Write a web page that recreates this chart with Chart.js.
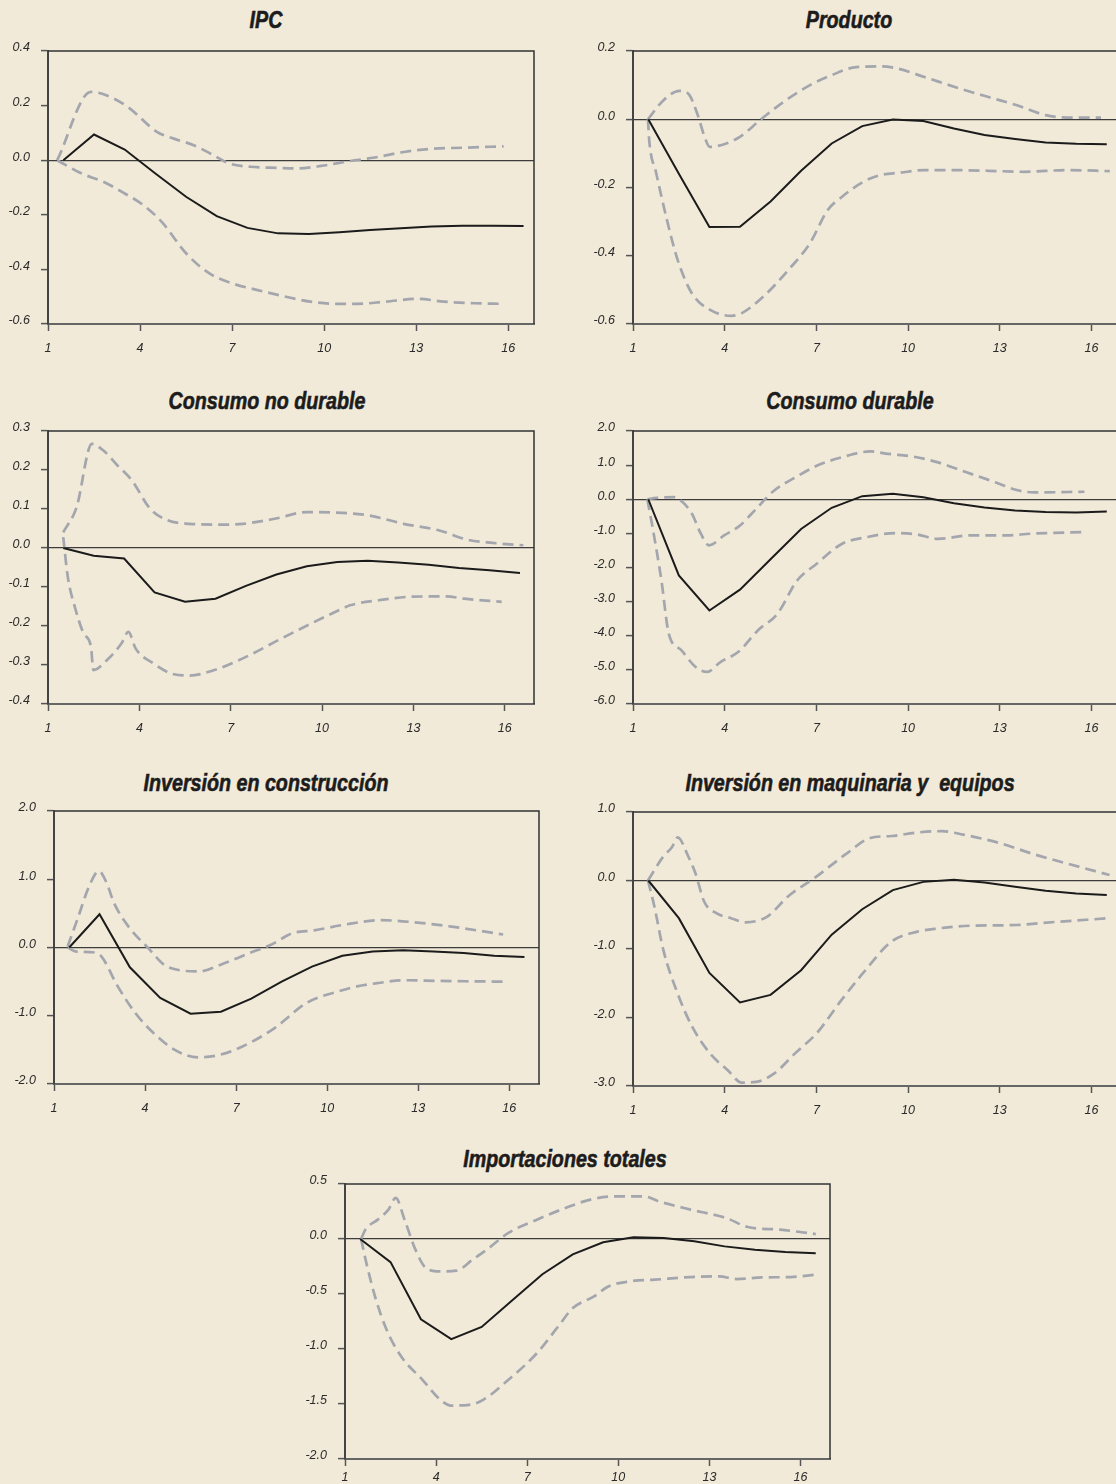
<!DOCTYPE html>
<html>
<head>
<meta charset="utf-8">
<script src="https://cdn.jsdelivr.net/npm/chart.js@4.4.1/dist/chart.umd.min.js"></script>
<style>
  html, body { margin: 0; padding: 0; width: 1116px; height: 1484px; overflow: hidden; background: #f2ead9; }
  canvas { position: absolute; }
  .title {
    position: absolute; white-space: pre;
    transform: translateX(-50%) scaleX(0.82);
    font: italic bold 24px "Liberation Sans", Arial, sans-serif;
    line-height: 24px; color: #1c1c1c;
    -webkit-text-stroke: 0.6px #1c1c1c;
  }
</style>
</head>
<body>
<script>
// Impulse responses: horizon steps of the point estimate and x-axis labels
const steps  = [1.5, 2.5, 3.5, 4.5, 5.5, 6.5, 7.5, 8.5, 9.5, 10.5, 11.5, 12.5, 13.5, 14.5, 15.5, 16.5];
const xTicks = [1, 4, 7, 10, 13, 16];

// IPC
const ipcResponse = [0, 0.094, 0.039, -0.049, -0.134, -0.205, -0.248, -0.268, -0.27, -0.264, -0.256, -0.249, -0.243, -0.24, -0.24, -0.241];
const ipcUpper = [[1.3,0],[2.4,0.25],[2.9,0.238],[3.6,0.195],[4.55,0.104],[5.1,0.079],[5.75,0.055],[6.4,0.018],[6.9,-0.012],[7.6,-0.024],[8.5,-0.028],[9.1,-0.03],[9.9,-0.021],[10.85,-0.003],[11.65,0.01],[12.6,0.03],[13.4,0.041],[14.6,0.046],[15.85,0.051]];
const ipcLower = [[1.3,0],[2.1,-0.049],[2.8,-0.079],[3.5,-0.122],[4.1,-0.164],[4.7,-0.225],[5.5,-0.341],[6.25,-0.414],[7.0,-0.451],[7.8,-0.475],[8.75,-0.5],[9.55,-0.518],[10.4,-0.526],[11.1,-0.526],[12.0,-0.518],[13.05,-0.508],[13.9,-0.518],[14.9,-0.524],[15.75,-0.526]];
const ipcTicks = [-0.6, -0.4, -0.2, 0, 0.2, 0.4];

// Producto
const prodResponse = [0, -0.16, -0.316, -0.315, -0.241, -0.151, -0.071, -0.02, -0.001, -0.005, -0.027, -0.046, -0.058, -0.068, -0.072, -0.073];
const prodUpper = [[1.49,0],[2.0,0.056],[2.52,0.083],[2.81,0.075],[3.1,0.017],[3.34,-0.051],[3.51,-0.081],[3.98,-0.073],[4.51,-0.051],[5.15,-0.003],[5.85,0.046],[6.79,0.1],[7.49,0.129],[8.31,0.153],[9.12,0.155],[9.59,0.15],[10.53,0.124],[11.58,0.093],[12.63,0.065],[13.56,0.041],[14.5,0.012],[15.2,0.005],[16.31,0.005]];
const prodLower = [[1.49,0],[1.53,-0.061],[1.76,-0.158],[2.11,-0.295],[2.46,-0.412],[2.92,-0.509],[3.51,-0.558],[4.21,-0.576],[4.56,-0.568],[5.27,-0.519],[6.09,-0.441],[6.79,-0.363],[7.37,-0.266],[7.84,-0.227],[8.54,-0.183],[9.12,-0.163],[9.71,-0.157],[10.53,-0.149],[11.46,-0.149],[12.63,-0.151],[13.79,-0.154],[15.2,-0.149],[16.6,-0.152]];
const prodTicks = [-0.6, -0.4, -0.2, 0, 0.2];

// Consumo no durable
const cndResponse = [0, -0.02, -0.027, -0.114, -0.138, -0.13, -0.097, -0.068, -0.047, -0.036, -0.033, -0.037, -0.043, -0.051, -0.057, -0.064];
const cndUpper = [[1.5,0.04],[1.94,0.105],[2.44,0.267],[2.82,0.25],[3.29,0.211],[3.76,0.173],[4.35,0.101],[4.93,0.071],[5.64,0.062],[6.58,0.06],[7.4,0.062],[8.45,0.075],[9.5,0.092],[10.68,0.09],[11.5,0.084],[12.68,0.062],[13.85,0.045],[14.79,0.021],[15.61,0.013],[16.61,0.007]];
const cndLower = [[1.5,0.028],[1.65,-0.074],[1.88,-0.151],[2.17,-0.219],[2.41,-0.253],[2.49,-0.313],[2.94,-0.287],[3.41,-0.245],[3.64,-0.215],[3.88,-0.258],[4.46,-0.296],[5.05,-0.322],[5.64,-0.327],[6.46,-0.313],[7.4,-0.283],[8.57,-0.236],[9.63,-0.194],[10.57,-0.159],[10.92,-0.147],[11.86,-0.134],[12.91,-0.125],[14.09,-0.124],[14.67,-0.13],[15.9,-0.138]];
const cndTicks = [-0.4, -0.3, -0.2, -0.1, 0, 0.1, 0.2, 0.3];

// Consumo durable
const cdResponse = [0, -2.23, -3.26, -2.65, -1.76, -0.87, -0.25, 0.09, 0.16, 0.06, -0.12, -0.24, -0.33, -0.37, -0.39, -0.36];
const cdUpper = [[1.47,0],[1.77,0.04],[2.34,0.06],[2.63,-0.09],[2.93,-0.43],[3.22,-1.01],[3.49,-1.35],[3.98,-1.06],[4.5,-0.77],[5.03,-0.28],[5.61,0.25],[6.31,0.64],[7.01,0.98],[7.83,1.23],[8.76,1.4],[9.35,1.33],[10.17,1.25],[10.98,1.08],[11.91,0.79],[12.85,0.5],[13.55,0.27],[14.13,0.2],[15.77,0.22]];
const cdLower = [[1.47,0],[1.64,-0.82],[1.93,-2.38],[2.17,-3.94],[2.58,-4.42],[3.04,-4.91],[3.42,-5.06],[3.86,-4.77],[4.45,-4.47],[5.09,-3.84],[5.73,-3.35],[6.37,-2.38],[7.01,-1.89],[7.83,-1.31],[8.65,-1.11],[9.58,-0.99],[10.28,-1.03],[10.98,-1.16],[12.03,-1.06],[13.2,-1.06],[14.01,-1.01],[15.77,-0.96]];
const cdTicks = [-6, -5, -4, -3, -2, -1, 0, 1, 2];

// Inversión en construcción
const icResponse = [0, 0.487, -0.29, -0.74, -0.97, -0.94, -0.75, -0.5, -0.28, -0.12, -0.06, -0.04, -0.06, -0.08, -0.12, -0.14];
const icUpper = [[1.45,0.015],[1.8,0.45],[2.15,0.89],[2.48,1.12],[2.74,0.94],[2.98,0.65],[3.45,0.31],[4.15,-0.03],[4.62,-0.25],[5.1,-0.33],[5.8,-0.35],[6.51,-0.25],[7.45,-0.08],[8.15,0.04],[8.86,0.21],[9.57,0.25],[10.51,0.33],[11.8,0.4],[12.86,0.37],[14.04,0.31],[15.1,0.24],[15.8,0.19]];
const icLower = [[1.45,0],[1.74,-0.06],[2.27,-0.07],[2.56,-0.13],[3.1,-0.57],[3.68,-0.96],[4.27,-1.25],[4.98,-1.5],[5.74,-1.61],[6.39,-1.58],[7.21,-1.45],[8.27,-1.18],[9.33,-0.81],[10.39,-0.64],[10.98,-0.57],[11.69,-0.52],[12.51,-0.48],[13.69,-0.49],[15.8,-0.5]];
const icTicks = [-2, -1, 0, 1, 2];

// Inversión en maquinaria y equipos
const imeResponse = [0, -0.55, -1.35, -1.78, -1.67, -1.31, -0.79, -0.42, -0.14, -0.02, 0.01, -0.03, -0.09, -0.15, -0.19, -0.21];
const imeUpper = [[1.49,0],[1.99,0.35],[2.28,0.49],[2.46,0.63],[2.81,0.35],[3.04,0.11],[3.33,-0.31],[3.74,-0.48],[4.21,-0.55],[4.68,-0.61],[5.38,-0.53],[6.08,-0.23],[7.01,0.06],[7.95,0.38],[8.76,0.62],[9.46,0.65],[10.28,0.7],[11.1,0.72],[11.8,0.67],[12.97,0.55],[14.14,0.38],[15.18,0.25],[16.59,0.08]];
const imeLower = [[1.49,0],[1.7,-0.38],[1.99,-1.01],[2.46,-1.65],[2.93,-2.13],[3.51,-2.52],[4.1,-2.77],[4.56,-2.95],[5.03,-2.94],[5.61,-2.82],[6.31,-2.52],[7.01,-2.23],[7.83,-1.74],[8.53,-1.35],[9.46,-0.89],[10.28,-0.75],[10.98,-0.7],[12.03,-0.66],[13.55,-0.65],[14.37,-0.62],[16.59,-0.55]];
const imeTicks = [-3, -2, -1, 0, 1];

// Importaciones totales
const impResponse = [0, -0.21, -0.73, -0.91, -0.8, -0.56, -0.32, -0.14, -0.03, 0.015, 0.01, -0.02, -0.067, -0.097, -0.118, -0.13];
const impUpper = [[1.53,0],[1.67,0.085],[2.08,0.176],[2.43,0.267],[2.67,0.373],[2.96,0.176],[3.32,-0.097],[3.67,-0.264],[4.14,-0.294],[4.67,-0.288],[5.2,-0.188],[5.67,-0.097],[6.38,0.055],[7.32,0.176],[8.26,0.282],[9.08,0.358],[9.91,0.388],[10.85,0.388],[11.32,0.343],[12.38,0.267],[13.55,0.191],[14.26,0.109],[15.32,0.085],[16.5,0.045]];
const impLower = [[1.53,0],[1.73,-0.249],[2.02,-0.552],[2.37,-0.825],[2.85,-1.068],[3.55,-1.28],[4.14,-1.462],[4.49,-1.514],[5.08,-1.508],[5.55,-1.462],[6.38,-1.28],[7.32,-1.038],[8.02,-0.795],[8.5,-0.628],[9.2,-0.522],[9.67,-0.431],[10.38,-0.385],[11.2,-0.37],[12.38,-0.346],[13.32,-0.34],[13.9,-0.364],[14.73,-0.349],[15.67,-0.346],[16.5,-0.325]];
const impTicks = [-2, -1.5, -1, -0.5, 0, 0.5];

// Panel layout: plot rectangle [left, top, right, bottom] in page pixels, title anchor, x-label gap
const panels = [
  { title: 'IPC', tx: 266, tb: 28, rect: [48, 51, 534, 324], xMax: 16.84, xPad: 10, yTicks: ipcTicks, response: ipcResponse, upper: ipcUpper, lower: ipcLower },
  { title: 'Producto', tx: 849, tb: 28, rect: [633, 51, 1119, 324], xMax: 16.9, xPad: 10, yTicks: prodTicks, response: prodResponse, upper: prodUpper, lower: prodLower },
  { title: 'Consumo no durable', tx: 267, tb: 409, rect: [48, 431, 534, 704], xMax: 16.96, xPad: 10, yTicks: cndTicks, response: cndResponse, upper: cndUpper, lower: cndLower },
  { title: 'Consumo durable', tx: 850, tb: 409, rect: [633, 431, 1119, 704], xMax: 16.9, xPad: 10, yTicks: cdTicks, response: cdResponse, upper: cdUpper, lower: cdLower },
  { title: 'Inversión en construcción', tx: 266, tb: 791, rect: [54, 811, 539, 1084], xMax: 16.98, xPad: 10, yTicks: icTicks, response: icResponse, upper: icUpper, lower: icLower },
  { title: 'Inversión en maquinaria y  equipos', tx: 850, tb: 791, rect: [633, 812, 1119, 1086], xMax: 16.9, xPad: 10, yTicks: imeTicks, response: imeResponse, upper: imeUpper, lower: imeLower },
  { title: 'Importaciones totales', tx: 565, tb: 1167, rect: [345, 1184, 830, 1459], xMax: 16.97, xPad: 4, yTicks: impTicks, response: impResponse, upper: impUpper, lower: impLower }
];

const AXIS_W = 60, AXIS_H = 40, PAD_T = 12, PAD_R = 4;
const TICK_FONT = { family: '"Liberation Sans", Arial, sans-serif', size: 12.5, style: 'italic' };
const BAND_COLOR = '#a3a6ad';

// top and right edges of the plot frame
const framePlugin = {
  id: 'frame',
  beforeDatasetsDraw(chart) {
    const { ctx, chartArea: { left, top, right, bottom } } = chart;
    ctx.save();
    ctx.strokeStyle = '#333';
    ctx.lineWidth = 1.5;
    ctx.beginPath();
    ctx.moveTo(left, top);
    ctx.lineTo(right, top);
    ctx.lineTo(right, bottom);
    ctx.stroke();
    ctx.restore();
  }
};

const toPoints = pairs => pairs.map(([x, y]) => ({ x, y }));

panels.forEach(p => {
  const [l, t, r, b] = p.rect;
  const W = (r - l) + AXIS_W + PAD_R;
  const H = (b - t) + AXIS_H + PAD_T;

  const title = document.createElement('div');
  title.className = 'title';
  title.textContent = p.title;
  title.style.left = p.tx + 'px';
  title.style.top = (p.tb - 20) + 'px';
  document.body.appendChild(title);

  const cv = document.createElement('canvas');
  cv.width = W; cv.height = H;
  cv.style.left = (l - AXIS_W) + 'px';
  cv.style.top = (t - PAD_T) + 'px';
  cv.style.width = W + 'px';
  cv.style.height = H + 'px';
  document.body.appendChild(cv);

  const band = data => ({
    data: toPoints(data),
    borderColor: BAND_COLOR,
    borderWidth: 2.7,
    borderDash: [11, 6],
    cubicInterpolationMode: 'monotone',
    pointRadius: 0
  });

  new Chart(cv, {
    type: 'line',
    data: {
      datasets: [
        {
          data: steps.map((x, i) => ({ x, y: p.response[i] })),
          borderColor: '#1b1b1b',
          borderWidth: 2,
          tension: 0,
          pointRadius: 0
        },
        band(p.upper),
        band(p.lower)
      ]
    },
    options: {
      responsive: false,
      animation: false,
      devicePixelRatio: 1,
      layout: { padding: { top: PAD_T, right: PAD_R, left: 0, bottom: 0 } },
      plugins: { legend: { display: false }, tooltip: { enabled: false }, title: { display: false } },
      scales: {
        x: {
          type: 'linear', min: 1, max: p.xMax,
          afterBuildTicks: s => { s.ticks = xTicks.map(v => ({ value: v })); },
          afterFit: s => { s.height = AXIS_H; s.paddingLeft = 0; s.paddingRight = 0; },
          grid: { drawOnChartArea: false, drawTicks: true, tickLength: 7, tickColor: '#555', tickWidth: 1.5 },
          border: { color: '#666', width: 2 },
          ticks: { padding: p.xPad, font: TICK_FONT, color: '#2a2a2a', maxRotation: 0, autoSkip: false, callback: v => String(v) }
        },
        y: {
          type: 'linear', min: p.yTicks[0], max: p.yTicks[p.yTicks.length - 1],
          afterBuildTicks: s => { s.ticks = p.yTicks.map(v => ({ value: v })); },
          afterFit: s => { s.width = AXIS_W; s.paddingTop = 0; s.paddingBottom = 0; },
          grid: {
            drawOnChartArea: true,
            color: c => (c.tick && c.tick.value === 0) ? '#3c3c3c' : 'rgba(0,0,0,0)',
            lineWidth: 1.2,
            drawTicks: true, tickLength: 7, tickColor: '#555', tickWidth: 1.5
          },
          border: { color: '#444', width: 2 },
          ticks: { padding: 11, labelOffset: -3, font: TICK_FONT, color: '#2a2a2a', callback: v => Number(v).toFixed(1) }
        }
      }
    },
    plugins: [framePlugin]
  });
});
</script>
</body>
</html>
